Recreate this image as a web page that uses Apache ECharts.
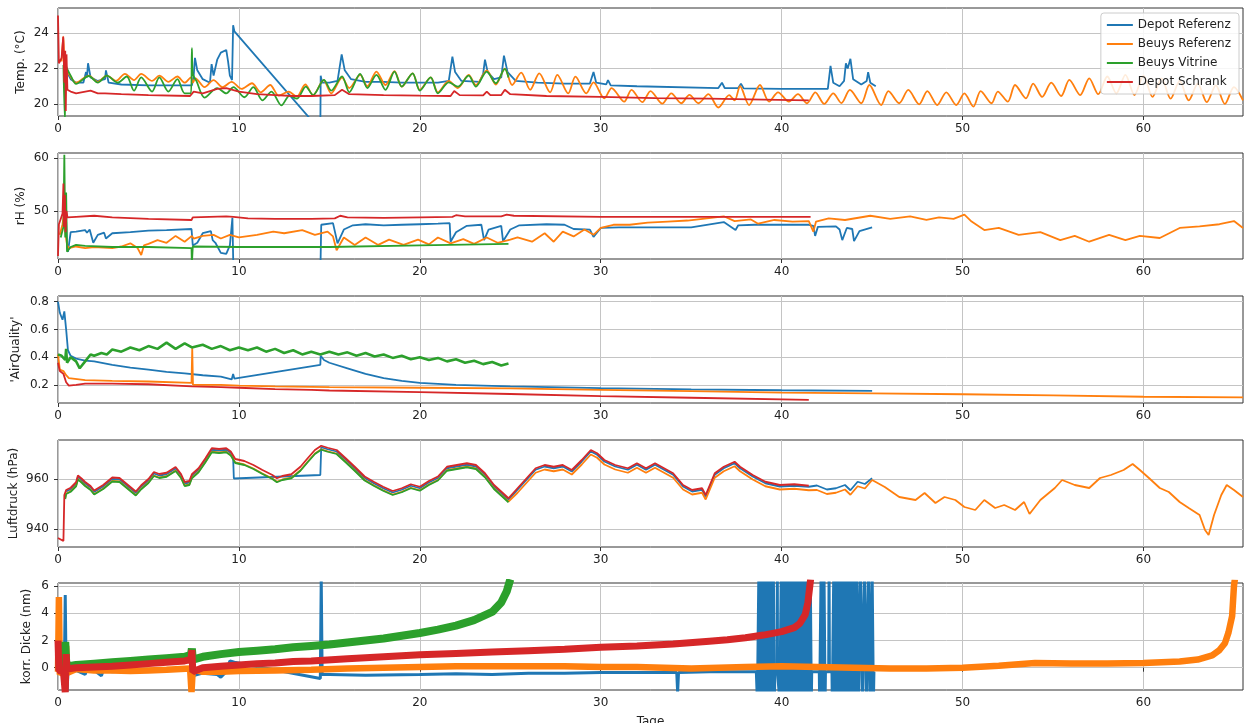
<!DOCTYPE html>
<html>
<head>
<meta charset="utf-8">
<script src="https://cdn.jsdelivr.net/npm/echarts@6/dist/echarts.min.js"></script>
<style>
html,body{margin:0;padding:0;background:#fff;}
#chart{width:1244px;height:723px;}
</style>
</head>
<body>
<div id="chart"></div>
<script>
// ---------- names / ticks ----------
const seriesNames = ['Depot Referenz', 'Beuys Referenz', 'Beuys Vitrine', 'Depot Schrank'];
const seriesColors = ['#1f77b4', '#ff7f0e', '#2ca02c', '#d62728'];
const xTicks = [0, 10, 20, 30, 40, 50, 60];
const yTicksTemp = [20, 22, 24];
const yTicksRH = [50, 60];
const yTicksAQ = [0.2, 0.4, 0.6, 0.8];
const yTicksP = [940, 960];
const yTicksD = [0, 2, 4, 6];

// ---------- Panel 1: Temperatur ----------
const tempDepotRef = [[0.42,22.0],[0.5,21.8],[0.7,21.4],[1.0,21.2],[1.4,21.2],[1.55,21.8],[1.6,21.5],[1.66,22.3],[1.8,21.5],[2.2,21.3],[2.6,21.4],[2.65,21.9],[2.8,21.2],[3.5,21.1],[5,21.05],[7.4,21.05],[7.5,21.6],[7.57,22.6],[7.7,21.9],[8.0,21.4],[8.4,21.2],[8.49,22.25],[8.6,21.6],[8.8,22.5],[9.0,22.9],[9.3,23.05],[9.4,22.4],[9.5,21.6],[9.62,21.35],[9.68,24.45],[9.75,24.1],[14.5,18.5],[14.52,21.6],[14.6,21.2],[15.0,21.2],[15.45,21.3],[15.68,22.8],[15.85,21.9],[16.2,21.4],[17,21.25],[18,21.25],[19,21.2],[20,21.2],[21,21.2],[21.6,21.3],[21.8,22.67],[21.95,21.8],[22.3,21.3],[23.3,21.25],[23.5,21.7],[23.6,22.5],[23.75,21.8],[24.1,21.4],[24.5,21.5],[24.65,22.73],[24.85,21.8],[25.3,21.3],[26.5,21.2],[28,21.15],[29.4,21.15],[29.6,21.8],[29.75,21.2],[30.3,21.1],[30.4,21.35],[30.55,21.05],[32,21.0],[36.5,20.9],[36.7,21.2],[36.85,20.9],[37.6,20.9],[37.75,21.15],[37.9,20.88],[40,20.85],[42.55,20.85],[42.7,22.15],[42.85,21.2],[43.2,21.0],[43.45,21.3],[43.55,22.3],[43.65,22.0],[43.8,22.55],[43.95,21.4],[44.4,21.1],[44.7,21.3],[44.78,21.8],[44.9,21.2],[45.2,21.0]];
const tempBeuysRef = [[0.2,22.4],[0.29,23.8],[0.35,22.6],[0.45,22.0],[0.6,21.7],[1.0,21.2],[1.7,21.6],[2.2,21.25],[2.7,21.6],[3.2,21.3],[3.7,21.7],[4.2,21.35],[4.6,21.7],[5.2,21.3],[5.6,21.6],[6.1,21.25],[6.6,21.55],[7.0,21.2],[7.35,21.5],[7.45,21.2],[7.6,21.45],[8.1,20.95],[8.6,21.35],[9.1,20.95],[9.6,21.25],[10.15,20.85],[10.72,21.17],[11.2,20.66],[11.73,21.07],[12.2,20.47],[12.75,20.7],[13.2,20.41],[13.67,21.1],[14.1,20.5],[14.68,21.35],[15.1,20.6],[15.7,21.49],[16.1,20.9],[16.7,21.64],[17.1,21.0],[17.6,21.83],[18.1,21.07],[18.6,21.86],[19.0,20.98],[19.6,21.73],[20.0,20.8],[20.6,21.5],[21.0,20.66],[21.6,21.3],[22.1,20.9],[22.7,21.64],[23.1,21.07],[23.7,21.9],[24.2,21.1],[24.7,22.0],[25.1,21.07],[25.6,21.77],[26.1,20.8],[26.6,21.73],[27.2,20.66],[27.6,21.64],[28.2,20.6],[28.6,21.54],[29.2,20.6],[29.6,21.22],[30.2,20.32],[30.6,20.9],[31.3,20.13],[31.7,20.8],[32.3,20.1],[32.75,20.73],[33.4,20.02],[33.9,20.6],[34.45,20.04],[34.9,20.51],[35.4,20.04],[35.95,20.55],[36.5,19.8],[37.1,20.5],[37.4,20.2],[37.7,21.0],[38.2,19.94],[38.8,21.07],[39.3,20.13],[39.8,20.66],[40.4,20.13],[40.9,20.55],[41.4,20.04],[41.86,20.66],[42.35,20.0],[42.85,20.6],[43.3,20.05],[43.77,20.79],[44.4,20.04],[44.85,21.07],[45.5,19.94],[45.9,20.73],[46.5,20.04],[47.0,20.79],[47.6,19.98],[48.05,20.73],[48.6,19.94],[49.1,20.66],[49.65,19.94],[50.1,20.6],[50.6,19.85],[51.0,20.73],[51.6,20.04],[51.95,20.7],[52.5,20.13],[52.9,21.07],[53.5,20.32],[53.9,21.15],[54.4,20.4],[54.9,21.2],[55.45,20.45],[55.9,21.36],[56.5,20.5],[57.0,21.45],[57.5,20.55],[58.0,21.55],[58.5,20.6],[59.0,21.64],[59.5,20.5],[60.0,21.6],[60.5,20.4],[61.0,21.45],[61.5,20.3],[62.0,21.3],[62.5,20.2],[63.0,21.15],[63.5,20.1],[64.0,21.05],[64.5,20.0],[65.0,20.95],[65.5,20.2]];
const tempBeuysVit = [[0.3,22.2],[0.38,19.0],[0.42,22.2],[0.5,22.0],[0.7,21.6],[1.0,21.13],[1.7,21.58],[2.2,21.2],[2.7,21.6],[3.3,21.2],[3.8,21.55],[4.2,20.75],[4.6,21.5],[5.2,20.7],[5.6,21.5],[6.1,20.7],[6.6,21.4],[7.0,20.6],[7.35,20.6],[7.4,23.15],[7.45,21.7],[7.65,21.3],[8.1,20.36],[8.8,20.9],[9.3,20.6],[9.7,20.95],[10.3,20.38],[10.8,20.95],[11.3,20.2],[11.8,20.7],[12.35,19.92],[12.8,20.47],[13.2,20.3],[13.7,20.98],[14.1,20.5],[14.7,21.36],[15.1,20.75],[15.7,21.56],[16.1,20.66],[16.7,21.7],[17.1,20.9],[17.6,21.64],[18.1,20.8],[18.6,21.83],[19.0,20.98],[19.6,21.73],[20.0,20.75],[20.6,21.5],[21.0,20.6],[21.6,21.22],[22.1,20.98],[22.7,21.6],[23.1,20.98],[23.7,21.83],[24.2,21.17],[24.7,21.98],[24.9,21.5]];
const tempDepotSchrank = [[0,25.0],[0.05,22.3],[0.2,22.6],[0.29,23.8],[0.35,21.2],[0.4,23.0],[0.43,19.6],[0.47,22.8],[0.52,20.8],[0.7,20.7],[1.0,20.6],[1.8,20.75],[2.2,20.6],[2.6,20.6],[2.7,20.68],[3.5,20.55],[5,20.5],[7.3,20.45],[7.5,20.7],[8.0,20.6],[8.8,20.85],[9.3,20.9],[10,20.7],[11,20.55],[12,20.5],[13,20.45],[14,20.45],[15.3,20.5],[15.7,20.8],[16.1,20.55],[18,20.5],[20,20.47],[21.7,20.45],[21.9,20.73],[22.2,20.5],[23.5,20.48],[23.7,20.7],[23.9,20.5],[24.5,20.5],[24.7,20.8],[25.0,20.55],[27,20.45],[30,20.4],[33,20.33],[36,20.3],[39,20.25],[41.5,20.2]];

// ---------- Panel 2: rH ----------
const rhDepotRef = [[0.45,48.0],[0.5,43.0],[0.55,42.3],[0.7,46.0],[1.0,46.1],[1.5,46.4],[1.6,45.9],[1.75,46.5],[1.95,44.0],[2.2,45.5],[2.55,45.9],[2.65,44.8],[3.0,45.8],[4,46.0],[5,46.3],[6,46.4],[7.38,46.6],[7.45,43.5],[7.7,44.0],[8.0,45.8],[8.45,46.2],[8.55,44.5],[8.7,44.0],[9.0,42.1],[9.3,41.9],[9.5,43.5],[9.64,48.7],[9.7,38],[14.5,38],[14.55,47.4],[15.2,47.7],[15.45,43.9],[15.8,46.5],[16.3,47.3],[17,47.5],[18,47.3],[19,47.4],[20,47.5],[21,47.6],[21.65,47.7],[21.7,44.2],[22.0,46.0],[22.6,47.2],[23.4,47.4],[23.55,44.5],[23.8,46.5],[24.5,47.2],[24.6,44.3],[25.0,46.5],[25.5,47.3],[27,47.5],[28,47.4],[28.5,46.6],[29.4,46.5],[29.6,45.1],[30.0,46.8],[31,46.9],[35,46.9],[36.8,47.9],[37.45,46.4],[37.6,47.3],[38.5,47.4],[41.5,47.4],[41.75,47.2],[41.85,45.3],[42.0,47.0],[43.0,47.1],[43.2,46.5],[43.35,44.5],[43.6,46.8],[43.9,46.6],[44.0,44.3],[44.3,46.2],[45.0,46.9]];
const rhBeuysRef = [[0.1,45.5],[0.25,47.5],[0.32,49.2],[0.4,46.0],[0.5,43.6],[0.6,43.0],[1.0,43.3],[1.5,43.0],[2.0,43.2],[3.0,43.0],[3.5,43.3],[4.0,43.9],[4.4,43.0],[4.6,41.7],[4.75,43.5],[5.0,43.8],[5.5,44.5],[6.0,44.0],[6.5,45.3],[7.0,44.2],[7.4,45.3],[7.5,44.8],[8.0,45.3],[8.6,45.5],[9.0,44.8],[9.5,45.5],[10,45.0],[11,45.5],[11.9,46.1],[12.5,45.8],[13.5,46.4],[14.2,45.5],[14.9,46.1],[15.2,45.2],[15.4,42.6],[15.8,45.0],[16.4,43.6],[17.0,45.0],[17.7,43.6],[18.3,44.6],[19.1,43.6],[19.9,44.6],[20.5,43.7],[21.0,45.0],[21.7,43.9],[22.4,44.7],[23.0,43.8],[23.7,45.0],[24.3,44.0],[25.0,44.6],[25.4,45.0],[26.2,44.2],[26.9,45.8],[27.4,44.2],[27.9,46.1],[28.5,45.2],[29.1,46.5],[29.6,45.5],[30.0,46.8],[30.7,47.4],[31.6,47.4],[32.6,47.8],[33.7,48.0],[34.8,48.2],[36.1,48.7],[36.8,49.0],[37.4,48.1],[38.3,48.4],[38.7,47.6],[39.6,48.3],[40.6,48.0],[41.5,48.1],[41.75,46.1],[41.9,48.0],[42.6,48.6],[43.5,48.3],[44.9,49.1],[46,48.5],[47.1,49.0],[48.0,48.3],[48.7,48.8],[49.5,48.5],[50.1,49.3],[50.5,48.0],[51.2,46.4],[52,46.8],[53.1,45.5],[54.3,46.0],[55.4,44.5],[56.2,45.3],[57.0,44.2],[58.1,45.5],[59.0,44.5],[59.8,45.3],[60.9,44.9],[62.0,46.8],[63.1,47.1],[64.2,47.5],[65.0,48.1],[65.5,46.8]];
const rhBeuysVit = [[0.15,45.0],[0.3,47.0],[0.35,60.6],[0.4,45.0],[0.45,53.5],[0.5,42.3],[0.7,43.2],[1.0,43.6],[1.5,43.4],[3,43.2],[5,43.2],[7.38,43.0],[7.4,40.0],[7.45,43.3],[10,43.2],[15,43.2],[20,43.5],[24.9,43.8]];
const rhDepotSchrank = [[0,41.5],[0.05,47.5],[0.15,48.5],[0.25,49.5],[0.3,55.2],[0.33,47.0],[0.38,53.0],[0.42,46.0],[0.47,50.0],[0.52,48.8],[1.0,48.9],[2.0,49.1],[3,48.8],[5,48.5],[7.38,48.3],[7.45,48.8],[9.3,49.0],[9.7,48.9],[10.5,48.6],[12,48.5],[14,48.5],[15.3,48.6],[15.6,49.1],[16,48.8],[18,48.7],[20,48.8],[21.8,48.9],[22.0,49.2],[22.5,49.0],[24.5,49.0],[24.8,49.3],[25.2,49.1],[30,48.9],[35,48.9],[41.6,48.9]];

// ---------- Panel 3: 'AirQuality' ----------
const aqDepotRef = [[0,0.8],[0.1,0.72],[0.25,0.67],[0.35,0.73],[0.45,0.6],[0.55,0.45],[0.7,0.41],[1.0,0.39],[1.5,0.375],[2,0.37],[3,0.345],[4,0.325],[5,0.31],[6,0.295],[7,0.284],[8,0.27],[9,0.26],[9.6,0.24],[9.68,0.28],[9.75,0.245],[14.5,0.345],[14.52,0.41],[14.7,0.38],[15,0.36],[16,0.32],[17,0.28],[18,0.25],[19,0.23],[20,0.215],[22,0.2],[25,0.19],[30,0.177],[35,0.168],[40,0.162],[45,0.157]];
const aqBeuysRef = [[0,0.42],[0.1,0.31],[0.3,0.3],[0.45,0.27],[0.6,0.25],[1.5,0.235],[3,0.23],[5,0.225],[7.38,0.215],[7.42,0.465],[7.46,0.2],[9,0.2],[10,0.195],[12,0.19],[15,0.185],[20,0.18],[25,0.175],[30,0.165],[35,0.155],[40,0.145],[45,0.14],[50,0.133],[55,0.125],[60,0.115],[65.5,0.11]];
const aqBeuysVit = [[0,0.42],[0.2,0.41],[0.4,0.38],[0.45,0.46],[0.5,0.36],[0.7,0.4],[1.0,0.37],[1.2,0.32],[1.5,0.37],[1.8,0.42],[2.0,0.41],[2.4,0.43],[2.7,0.42],[3.0,0.455],[3.5,0.44],[4.0,0.47],[4.5,0.45],[5.0,0.48],[5.5,0.46],[6.0,0.505],[6.5,0.46],[7.0,0.5],[7.4,0.47],[8,0.49],[8.5,0.46],[9,0.48],[9.5,0.45],[10,0.47],[10.5,0.45],[11,0.47],[11.5,0.44],[12,0.46],[12.5,0.43],[13,0.45],[13.5,0.42],[14,0.44],[14.5,0.42],[15,0.44],[15.5,0.42],[16,0.435],[16.5,0.41],[17,0.43],[17.5,0.405],[18,0.42],[18.5,0.395],[19,0.41],[19.5,0.385],[20,0.4],[20.5,0.38],[21,0.395],[21.5,0.37],[22,0.385],[22.5,0.36],[23,0.375],[23.5,0.35],[24,0.365],[24.5,0.34],[24.9,0.355]];
const aqDepotSchrank = [[0,0.36],[0.1,0.3],[0.3,0.28],[0.45,0.22],[0.6,0.195],[1,0.2],[1.5,0.21],[3,0.21],[5,0.205],[7.4,0.19],[7.5,0.195],[9,0.185],[10,0.18],[12,0.17],[14,0.165],[15,0.16],[20,0.148],[25,0.135],[30,0.12],[35,0.108],[41.5,0.092]];

// ---------- Panel 4: Luftdruck ----------
const pDepotRef = [[0.45,955.0],[0.7,955.9],[1.0,958.1],[1.1,960.8],[1.3,959.6],[1.5,958.2],[1.8,956.6],[2.0,954.8],[2.5,957.0],[3.0,960.0],[3.4,959.8],[3.8,957.4],[4.3,954.4],[4.6,956.9],[5.0,959.4],[5.3,962.2],[5.6,961.4],[6.0,961.9],[6.5,964.2],[6.8,961.4],[7.0,958.2],[7.26,958.6],[7.4,961.3],[7.77,963.7],[8.15,967.7],[8.5,971.7],[8.9,971.4],[9.3,971.7],[9.55,970.4],[9.68,968.5],[9.72,960.2],[14.5,961.6],[14.55,972.7],[14.9,971.9],[15.4,971.0],[15.9,967.7],[16.4,964.3],[16.95,960.4],[17.45,958.3],[17.97,956.3],[18.5,954.6],[19.0,955.7],[19.5,957.3],[20.0,956.3],[20.5,958.6],[21.0,960.4],[21.5,964.3],[22.05,965.0],[22.6,965.7],[23.1,965.0],[23.6,961.7],[24.1,957.0],[24.6,953.7],[24.9,951.7],[25.4,955.7],[25.9,959.7],[26.4,963.7],[26.9,965.0],[27.4,964.3],[27.9,965.0],[28.4,963.0],[28.95,967.0],[29.45,971.0],[29.8,969.7],[30.2,967.0],[30.8,965.0],[31.5,963.7],[32.0,965.7],[32.5,963.7],[33.0,965.7],[33.5,963.7],[34.0,961.7],[34.55,957.0],[35.05,955.0],[35.6,955.7],[35.8,953.0],[36.3,961.7],[36.8,964.3],[37.4,966.3],[37.7,964.3],[38.4,961.0],[39.1,958.3],[39.9,957.0],[40.7,957.3],[41.5,956.9],[41.95,957.4],[42.5,955.8],[43.0,956.3],[43.5,957.6],[43.8,955.5],[44.2,958.9],[44.6,958.0],[45.0,960.3]];
const pBeuysRef = [[0.4,952.5],[0.45,954.2],[0.7,955.1],[1.0,957.3],[1.1,960.0],[1.3,958.8],[1.5,957.4],[1.8,955.8],[2.0,954.0],[2.5,956.2],[3.0,959.2],[3.4,959.0],[3.8,956.6],[4.3,953.6],[4.6,956.1],[5.0,958.6],[5.3,961.4],[5.6,960.6],[6.0,961.1],[6.5,963.4],[6.8,960.6],[7.0,957.4],[7.26,957.8],[7.4,960.5],[7.77,962.9],[8.15,966.9],[8.5,970.9],[8.9,970.6],[9.3,970.9],[9.55,969.6],[9.8,966.6],[10.3,965.8],[10.8,964.2],[11.3,962.2],[11.85,960.2],[12.1,958.9],[12.4,959.8],[12.9,960.5],[13.4,963.5],[13.8,966.9],[14.2,970.2],[14.55,971.9],[14.9,971.1],[15.4,970.2],[15.9,966.9],[16.4,963.5],[16.95,959.6],[17.45,957.5],[17.97,955.5],[18.5,953.8],[19.0,954.9],[19.5,956.5],[20.0,955.5],[20.5,957.8],[21.0,959.6],[21.5,963.5],[22.05,964.2],[22.6,964.9],[23.1,964.2],[23.6,960.9],[24.1,956.2],[24.6,952.9],[24.9,951.0],[25.4,954.5],[25.9,958.5],[26.4,962.5],[26.9,963.8],[27.4,963.1],[27.9,963.8],[28.4,961.8],[28.95,965.8],[29.45,969.8],[29.8,968.5],[30.2,965.8],[30.8,963.8],[31.5,962.5],[32.0,964.5],[32.5,962.5],[33.0,964.5],[33.5,962.5],[34.0,960.5],[34.55,955.8],[35.05,953.8],[35.6,954.5],[35.8,951.8],[36.3,960.5],[36.8,963.1],[37.4,965.1],[37.7,963.1],[38.4,959.8],[39.1,957.1],[39.9,955.8],[40.7,956.1],[41.5,955.5],[41.95,955.6],[42.5,954.0],[43.0,954.5],[43.5,955.8],[43.8,953.7],[44.2,957.1],[44.6,956.2],[45.0,959.6],[45.7,956.8],[46.5,952.8],[47.4,951.6],[47.9,954.4],[48.5,950.4],[49.0,952.8],[49.6,951.6],[50.1,948.8],[50.7,947.6],[51.2,951.6],[51.8,948.4],[52.3,949.6],[52.9,947.6],[53.4,950.8],[53.7,946.0],[54.3,951.6],[55.1,956.4],[55.5,959.6],[56.2,957.6],[57.0,956.4],[57.6,960.4],[58.2,961.6],[58.9,963.6],[59.4,966.0],[59.8,963.6],[60.3,960.4],[60.9,956.4],[61.4,954.8],[62.0,950.8],[62.5,948.4],[63.1,945.6],[63.4,939.6],[63.6,937.6],[63.9,945.6],[64.3,953.6],[64.6,957.6],[65.0,955.6],[65.5,952.8]];
const pBeuysVit = [[0.4,952.0],[0.45,954.0],[0.7,954.9],[1.0,957.1],[1.1,959.8],[1.3,958.6],[1.5,957.2],[1.8,955.6],[2.0,953.8],[2.5,956.0],[3.0,959.0],[3.4,958.8],[3.8,956.4],[4.3,953.4],[4.6,955.9],[5.0,958.4],[5.3,961.2],[5.6,960.4],[6.0,960.9],[6.5,963.2],[6.8,960.4],[7.0,957.2],[7.26,957.6],[7.4,960.3],[7.77,962.7],[8.15,966.7],[8.5,970.7],[8.9,970.4],[9.3,970.7],[9.55,969.4],[9.8,966.4],[10.3,965.6],[10.8,964.0],[11.3,962.0],[11.85,960.0],[12.1,958.7],[12.4,959.6],[12.9,960.3],[13.4,963.3],[13.8,966.7],[14.2,970.0],[14.55,971.7],[14.9,970.9],[15.4,970.0],[15.9,966.7],[16.4,963.3],[16.95,959.4],[17.45,957.3],[17.97,955.3],[18.5,953.6],[19.0,954.7],[19.5,956.3],[20.0,955.3],[20.5,957.6],[21.0,959.4],[21.5,963.3],[22.05,964.0],[22.6,964.7],[23.1,964.0],[23.6,960.7],[24.1,956.0],[24.6,952.7],[24.9,950.7]];
const pDepotSchrank = [[0,936.4],[0.3,935.2],[0.35,953.6],[0.45,955.6],[0.7,956.5],[1.0,958.7],[1.1,961.4],[1.3,960.2],[1.5,958.8],[1.8,957.2],[2.0,955.4],[2.5,957.6],[3.0,960.6],[3.4,960.4],[3.8,958.0],[4.3,955.0],[4.6,957.5],[5.0,960.0],[5.3,962.8],[5.6,962.0],[6.0,962.5],[6.5,964.8],[6.8,962.0],[7.0,958.8],[7.26,959.2],[7.4,961.9],[7.77,964.3],[8.15,968.3],[8.5,972.3],[8.9,972.0],[9.3,972.3],[9.55,971.0],[9.8,968.0],[10.3,967.2],[10.8,965.6],[11.3,963.6],[11.85,961.6],[12.1,960.3],[12.4,961.2],[12.9,961.9],[13.4,964.9],[13.8,968.3],[14.2,971.6],[14.55,973.3],[14.9,972.5],[15.4,971.6],[15.9,968.3],[16.4,964.9],[16.95,961.0],[17.45,958.9],[17.97,956.9],[18.5,955.2],[19.0,956.3],[19.5,957.9],[20.0,956.9],[20.5,959.2],[21.0,961.0],[21.5,964.9],[22.05,965.6],[22.6,966.3],[23.1,965.6],[23.6,962.3],[24.1,957.6],[24.6,954.3],[24.9,952.3],[25.4,956.3],[25.9,960.3],[26.4,964.3],[26.9,965.6],[27.4,964.9],[27.9,965.6],[28.4,963.6],[28.95,967.6],[29.45,971.6],[29.8,970.3],[30.2,967.6],[30.8,965.6],[31.5,964.3],[32.0,966.3],[32.5,964.3],[33.0,966.3],[33.5,964.3],[34.0,962.3],[34.55,957.6],[35.05,955.6],[35.6,956.3],[35.8,953.6],[36.3,962.3],[36.8,964.9],[37.4,966.9],[37.7,964.9],[38.4,961.6],[39.1,958.9],[39.9,957.6],[40.7,957.9],[41.5,957.3]];

// ---------- Panel 5: korr. Dicke ----------
const dDepotRef = [[0.1,-0.2],[0.35,-0.3],[0.4,5.35],[0.45,-0.5],[0.5,-1.8],[0.55,-0.3],[1.0,-0.2],[1.5,-0.5],[1.6,-0.1],[2.0,-0.2],[2.4,-0.6],[2.5,-0.2],[3,-0.3],[4,-0.2],[5,-0.25],[6,-0.15],[7.3,-0.1],[7.4,1.0],[7.45,-0.6],[8,-0.4],[8.8,-0.5],[9.0,-0.7],[9.3,-0.3],[9.5,0.5],[9.75,0.4],[14.5,-0.8],[14.55,6.5],[14.6,-0.5],[15,-0.5],[17,-0.55],[20,-0.5],[22,-0.45],[24,-0.5],[26,-0.4],[28,-0.4],[30,-0.35],[32,-0.35],[34.2,-0.35],[34.25,-1.8],[34.3,-0.35],[36,-0.3],[38.6,-0.3],[38.66,-2.5],[38.74,7],[38.82,-2.5],[38.9,7],[38.98,-2.5],[39.06,7],[39.14,-2.5],[39.22,7],[39.3,-2.5],[39.38,7],[39.46,-2.5],[39.54,7],[39.6,-2.5],[39.62,-0.3],[39.75,-0.3],[39.76,7],[39.77,-0.3],[39.88,-0.3],[39.9,-2.5],[39.98,7],[40.06,-2.5],[40.14,7],[40.22,-2.5],[40.3,7],[40.38,-2.5],[40.46,7],[40.54,-2.5],[40.62,7],[40.7,-2.5],[40.78,7],[40.86,-2.5],[40.94,7],[41.02,-2.5],[41.1,7],[41.18,-2.5],[41.26,7],[41.34,-2.5],[41.42,7],[41.5,-2.5],[41.58,7],[41.64,-2.5],[41.66,-0.3],[42.08,-0.3],[42.1,-2.5],[42.18,7],[42.26,-2.5],[42.34,7],[42.4,-2.5],[42.42,-0.3],[42.6,-0.3],[42.62,7],[42.64,-0.3],[42.78,-0.3],[42.8,-2.5],[42.88,7],[42.96,-2.5],[43.04,7],[43.12,-2.5],[43.2,7],[43.28,-2.5],[43.36,7],[43.44,-2.5],[43.52,7],[43.6,-2.5],[43.68,7],[43.76,-2.5],[43.84,7],[43.92,-2.5],[44.0,7],[44.08,-2.5],[44.16,7],[44.26,-2.5],[44.36,7],[44.48,-2.5],[44.58,7],[44.7,-2.5],[44.8,7],[44.9,-2.5],[45.0,7],[45.07,-2.5],[45.1,-0.3]];
const dBeuysRef = [[0.0,-0.3],[0.05,5.2],[0.1,-0.5],[0.3,-0.2],[0.45,1.6],[0.5,-0.4],[1,-0.1],[2,-0.2],[3,-0.2],[4,-0.25],[5,-0.2],[6,-0.15],[7.3,-0.05],[7.38,-1.8],[7.45,-0.1],[8,-0.3],[9,-0.3],[10,-0.25],[12,-0.2],[14,-0.15],[16,-0.05],[18,0.0],[20,0.05],[22,0.1],[25,0.1],[28,0.1],[30,0.05],[32,0.05],[35,-0.05],[38,0.05],[40,0.1],[42,0.05],[44,0.0],[46,-0.05],[48,-0.05],[50,0.0],[52,0.15],[54,0.35],[56,0.3],[58,0.3],[60,0.35],[62,0.45],[63,0.6],[63.8,0.9],[64.2,1.3],[64.5,1.8],[64.7,2.6],[64.9,3.8],[65.0,6.0],[65.05,6.5]];
const dBeuysVit = [[0.3,-0.3],[0.4,1.9],[0.45,0.5],[0.5,0.1],[1,0.2],[2,0.3],[3,0.4],[4,0.5],[5,0.6],[6,0.7],[7,0.8],[7.35,0.95],[7.4,1.4],[7.45,0.6],[8,0.8],[9,1.0],[10,1.15],[11,1.25],[12,1.35],[13,1.5],[14,1.6],[15,1.7],[16,1.85],[17,2.0],[18,2.15],[19,2.35],[20,2.55],[21,2.8],[22,3.1],[23,3.5],[24,4.1],[24.5,4.8],[24.8,5.6],[25.0,6.5]];
const dDepotSchrank = [[0.0,2.0],[0.05,-0.2],[0.3,-0.3],[0.4,-1.8],[0.45,1.0],[0.5,-0.1],[1,0.0],[2,0.05],[3,0.1],[4,0.2],[5,0.3],[6,0.4],[7,0.5],[7.35,0.6],[7.4,1.3],[7.45,-0.3],[8,0.0],[9,0.1],[10,0.2],[11,0.3],[12,0.35],[13,0.45],[14,0.5],[16,0.65],[18,0.8],[20,0.95],[22,1.05],[24,1.15],[26,1.25],[28,1.35],[30,1.5],[32,1.6],[34,1.75],[36,1.95],[37,2.05],[38,2.2],[39,2.4],[40,2.65],[40.7,2.95],[41.0,3.25],[41.3,3.9],[41.45,4.8],[41.6,6.5]];

// ---------- layout ----------
const FONT = 'DejaVu Sans';
const panels = [
  {top: 8,   height: 108, yName: 'Temp. (°C)',       gap: 31, min: 19.32, max: 25.42, ticks: yTicksTemp, data: [tempDepotRef, tempBeuysRef, tempBeuysVit, tempDepotSchrank], widths: [1.8,1.8,1.8,1.8], smooth: [false, 0.3, 0.3, false]},
  {top: 153, height: 106, yName: 'rH (%)',           gap: 31, min: 40.94, max: 60.94, ticks: yTicksRH,   data: [rhDepotRef, rhBeuysRef, rhBeuysVit, rhDepotSchrank], widths: [1.8,1.8,1.8,1.8], smooth: [false, false, false, false]},
  {top: 296, height: 107, yName: "'AirQuality'",     gap: 36, min: 0.070, max: 0.841, ticks: yTicksAQ,   data: [aqDepotRef, aqBeuysRef, aqBeuysVit, aqDepotSchrank], widths: [1.8,1.8,2.6,1.8], smooth: [false, false, false, false]},
  {top: 440, height: 107, yName: 'Luftdruck (hPa)',  gap: 38, min: 932.8, max: 975.6, ticks: yTicksP,    data: [pDepotRef, pBeuysRef, pBeuysVit, pDepotSchrank], widths: [1.8,1.8,1.8,1.8], smooth: [false, false, false, false]},
  {top: 583, height: 107, yName: 'korr. Dicke (nm)', gap: 25, min: -1.64, max: 6.23, ticks: yTicksD,    data: [dDepotRef, dBeuysRef, dBeuysVit, dDepotSchrank], widths: [3,6.5,8,7], smooth: [false, false, false, false]}
];

const grid = [], xAxis = [], yAxis = [], series = [];
panels.forEach((p, i) => {
  grid.push({left: 58, right: 1, top: p.top, height: p.height, show: true,
    borderColor: '#333', borderWidth: 1, backgroundColor: 'transparent',
    containLabel: false, outerBoundsMode: 'none'});
  xAxis.push({
    type: 'value', gridIndex: i, min: 0, max: 65.5,
    axisLine: {show: false},
    axisTick: {show: true, length: 4, lineStyle: {color: '#333'}, customValues: xTicks},
    axisLabel: {show: true, margin: 7, color: '#222', fontFamily: FONT, fontSize: 12, customValues: xTicks},
    splitLine: {show: true, lineStyle: {color: '#c4c4c4', width: 1}},
    name: i === 4 ? 'Tage' : '', nameLocation: 'middle', nameGap: 26, nameMoveOverlap: false,
    nameTextStyle: {color: '#222', fontFamily: FONT, fontSize: 12}
  });
  yAxis.push({
    type: 'value', gridIndex: i, min: p.min, max: p.max,
    axisLine: {show: false},
    axisTick: {show: true, length: 4, lineStyle: {color: '#333'}, customValues: p.ticks},
    axisLabel: {show: true, margin: 9, color: '#222', fontFamily: FONT, fontSize: 12, customValues: p.ticks},
    splitLine: {show: true, lineStyle: {color: '#c4c4c4', width: 1}},
    name: p.yName, nameLocation: 'middle', nameGap: p.gap, nameRotate: 90, nameMoveOverlap: false,
    nameTextStyle: {color: '#222', fontFamily: FONT, fontSize: 12}
  });
  p.data.forEach((d, k) => {
    series.push({
      name: seriesNames[k], type: 'line', xAxisIndex: i, yAxisIndex: i,
      data: d, showSymbol: false, symbol: 'none', clip: true,
      smooth: p.smooth[k],
      color: seriesColors[k],
      lineStyle: {color: seriesColors[k], width: p.widths[k]},
      emphasis: {disabled: true}, silent: true
    });
  });
});

const chart = echarts.init(document.getElementById('chart'), null, {renderer: 'canvas'});
chart.setOption({
  animation: false,
  backgroundColor: '#fff',
  grid, xAxis, yAxis, series,
  legend: {
    data: seriesNames, orient: 'vertical', right: 5, top: 13,
    icon: 'rect', itemWidth: 26, itemHeight: 2, itemGap: 5,
    padding: [5, 8, 5, 6],
    backgroundColor: 'rgba(255,255,255,0.85)', borderColor: '#cccccc', borderWidth: 1, borderRadius: 3,
    textStyle: {color: '#222', fontFamily: FONT, fontSize: 12, lineHeight: 14}
  }
});
</script>
</body>
</html>
